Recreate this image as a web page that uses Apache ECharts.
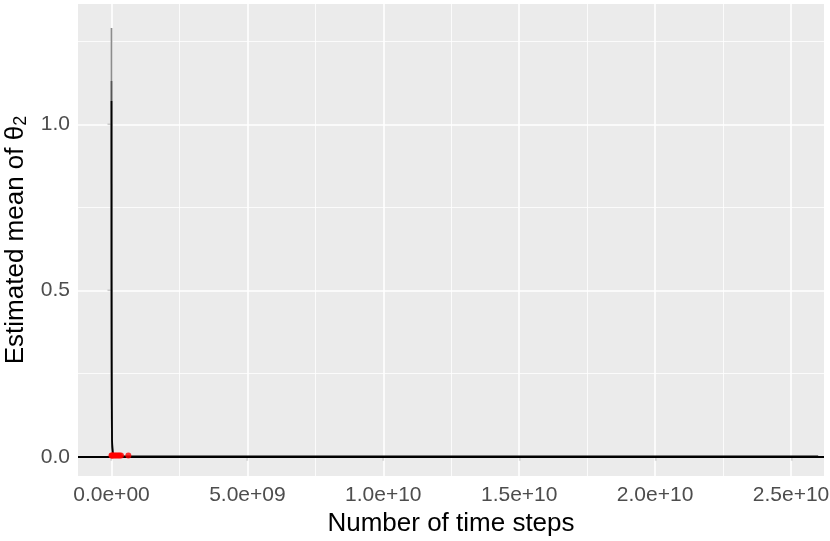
<!DOCTYPE html>
<html lang="en">
<head>
    <meta charset="UTF-8">
    <title>Estimated mean of theta2</title>
    <script src="https://cdn.jsdelivr.net/npm/echarts@6/dist/echarts.min.js"></script>
    <style type="text/css">
        html, body { margin: 0; padding: 0; background: #fff; }
        #chart { width: 830px; height: 541px; }
    </style>
</head>
<body>
<div id="chart"></div>
<script type="text/javascript">
    // time steps (x) and estimated means (y)
    var timeSteps = [0, 1e6, 2e6, 5e6, 1e7, 2e7, 5e7, 1e8, 2e8, 5e8, 1e9, 5e9, 1e10, 1.5e10, 2e10, 2.5e10, 2.6e10];
    var meanMain  = [1.07, 0.82, 0.55, 0.32, 0.16, 0.05, 0.008, 0.004, 0.002, 0.001, 0.001, 0.001, 0.001, 0.001, 0.001, 0.001, 0.001];
    var meanRunA  = [1.29, 0.9, 0.6, 0.3, 0.12, 0.04, 0.006, 0.003];
    var meanRunB  = [1.13, 0.85, 0.5, 0.25, 0.1, 0.03, 0.005, 0.003];
    // red points near zero
    var pointSteps = [0, 2e7, 5e7, 1e8, 1.5e8, 2e8, 2.5e8, 3e8, 3.5e8, 6.2e8];
    var pointVals  = [0.004, 0.004, 0.004, 0.004, 0.004, 0.004, 0.004, 0.004, 0.004, 0.004];
    // ticks
    var xTicks = [0, 5e9, 1e10, 1.5e10, 2e10, 2.5e10];
    var xMinor = [2.5e9, 7.5e9, 1.25e10, 1.75e10, 2.25e10];
    var yTicks = [0, 0.5, 1.0];
    var yMinor = [0.25, 0.75, 1.25];

    function zip(xs, ys) {
        var out = [];
        for (var i = 0; i < ys.length; i++) out.push([xs[i], ys[i]]);
        return out;
    }
    function sci(v) {
        if (v === 0) return '0.0e+00';
        var e = Math.floor(Math.log10(Math.abs(v)) + 1e-9);
        var m = v / Math.pow(10, e);
        var ae = Math.abs(e);
        return m.toFixed(1) + 'e' + (e < 0 ? '-' : '+') + (ae < 10 ? '0' : '') + ae;
    }

    var font = 'Liberation Sans';
    var gridLines = [];
    xTicks.forEach(function (v) { gridLines.push({ xAxis: v, lineStyle: { width: 1.6 } }); });
    xMinor.forEach(function (v) { gridLines.push({ xAxis: v, lineStyle: { width: 0.8 } }); });
    yTicks.forEach(function (v) { gridLines.push({ yAxis: v, lineStyle: { width: 1.6 } }); });
    yMinor.forEach(function (v) { gridLines.push({ yAxis: v, lineStyle: { width: 0.8 } }); });

    var myChart = echarts.init(document.getElementById('chart'));
    var option = {
        animation: false,
        textStyle: { fontFamily: font },
        grid: {
            left: 78, right: 6, top: 4, bottom: 65,
            show: true, backgroundColor: '#EBEBEB', borderWidth: 0,
            containLabel: false,
            outerBoundsMode: 'none'
        },
        xAxis: {
            type: 'value',
            min: -1.2325e9,
            max: 2.6214e10,
            name: 'Number of time steps',
            nameLocation: 'middle',
            nameGap: 28,
            nameTextStyle: { color: '#000', fontSize: 26, fontFamily: font },
            axisLine: { show: false },
            axisTick: { show: true, length: 4, customValues: xTicks, lineStyle: { color: '#333', width: 1.2 } },
            axisLabel: { customValues: xTicks, formatter: sci, color: '#4D4D4D', fontSize: 21, margin: 9, fontFamily: font },
            splitLine: { show: false }
        },
        yAxis: {
            type: 'value',
            min: -0.058,
            max: 1.362,
            name: 'Estimated mean of θ{sub|2}',
            nameLocation: 'middle',
            nameGap: 44,
            nameRotate: 90,
            nameTextStyle: {
                color: '#000', fontSize: 26, fontFamily: font,
                rich: { sub: { fontSize: 18, color: '#000', fontFamily: font, padding: [10, 0, 0, 0] } }
            },
            axisLine: { show: false },
            axisTick: { show: true, length: 4, customValues: yTicks, lineStyle: { color: '#333', width: 1.2 } },
            axisLabel: { customValues: yTicks, formatter: function (v) { return v.toFixed(1); }, color: '#4D4D4D', fontSize: 21, margin: 8, fontFamily: font },
            splitLine: { show: false }
        },
        series: [
            {
                type: 'line', name: 'grid', data: [], z: 1, silent: true,
                markLine: {
                    z: 1,
                    silent: true, symbol: ['none', 'none'], label: { show: false },
                    lineStyle: { color: '#FFFFFF', type: 'solid' },
                    data: gridLines
                }
            },
            {
                type: 'line', name: 'runA', z: 2, showSymbol: false,
                lineStyle: { color: '#8C8C8C', width: 1.7 },
                data: zip(timeSteps, meanRunA)
            },
            {
                type: 'line', name: 'runB', z: 3, showSymbol: false,
                lineStyle: { color: '#555555', width: 1.7 },
                data: zip(timeSteps, meanRunB)
            },
            {
                type: 'line', name: 'mean', z: 4, showSymbol: false,
                lineStyle: { color: '#000', width: 1.7 },
                data: zip(timeSteps, meanMain),
                markLine: {
                    z: 5,
                    silent: true, symbol: ['none', 'none'], label: { show: false },
                    lineStyle: { color: '#000', type: 'solid', width: 1.8 },
                    data: [{ yAxis: 0 }]
                }
            },
            {
                type: 'scatter', name: 'points', z: 6,
                symbolSize: 6,
                itemStyle: { color: '#FF0000' },
                data: zip(pointSteps, pointVals)
            }
        ]
    };
    myChart.setOption(option);
</script>
</body>
</html>
